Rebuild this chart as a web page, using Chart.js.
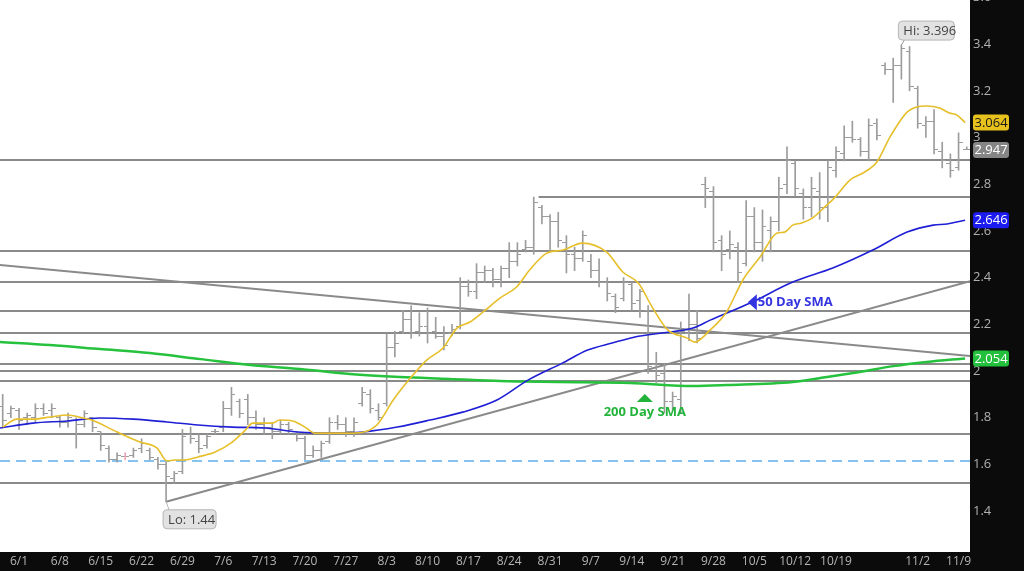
<!DOCTYPE html>
<html>
<head>
<meta charset="utf-8">
<script src="https://cdn.jsdelivr.net/npm/chart.js@4.4.1/dist/chart.umd.min.js"></script>
<style>
  html, body { margin: 0; padding: 0; background: #0b0b0b; }
  #wrap { width: 1024px; height: 571px; }
</style>
</head>
<body>
<div id="wrap"><canvas id="chart"></canvas></div>
<script>
// daily bars, index 0 = 5/28 (weekday slots)
const highs = [
  1.90,1.85,1.84,1.82,1.86,1.86,1.86,1.81,1.82,1.80,
  1.83,1.80,1.74,1.68,1.65,1.65,1.67,1.71,1.67,1.63,
  1.61,1.57,1.75,1.76,1.73,1.73,1.75,1.87,1.93,1.88,
  1.90,1.83,1.80,1.78,1.79,1.78,1.74,1.72,1.68,1.70,
  1.80,1.81,1.80,1.80,1.93,1.92,1.86,2.16,2.17,2.26,
  2.28,2.25,2.27,2.23,2.19,2.20,2.40,2.39,2.46,2.45,
  2.44,2.45,2.55,2.55,2.56,2.745,2.71,2.67,2.68,2.58,
  2.53,2.60,2.50,2.48,2.40,2.33,2.40,2.38,2.35,2.28,
  2.08,2.03,1.91,2.21,2.33,2.26,2.83,2.79,2.58,2.60,
  2.55,2.73,2.70,2.69,2.66,2.83,2.96,2.90,2.78,2.83,
  2.85,2.90,2.96,3.05,3.07,3.00,3.08,3.08,3.32,3.34,
  3.396,3.39,3.22,3.09,3.12,2.98,2.93,3.02,2.96
];
const lows = [
  1.76,1.80,1.75,1.77,1.78,1.81,1.80,1.76,1.76,1.67,
  1.76,1.74,1.66,1.61,1.61,1.62,1.63,1.65,1.62,1.58,
  1.44,1.52,1.56,1.69,1.65,1.67,1.73,1.74,1.81,1.80,
  1.77,1.75,1.73,1.71,1.73,1.73,1.70,1.62,1.63,1.63,
  1.69,1.75,1.72,1.72,1.85,1.82,1.79,1.85,2.06,2.16,
  2.14,2.15,2.12,2.14,2.09,2.15,2.18,2.32,2.31,2.38,
  2.36,2.36,2.40,2.45,2.51,2.50,2.63,2.51,2.53,2.42,
  2.43,2.47,2.40,2.36,2.30,2.25,2.30,2.26,2.23,1.99,
  1.95,1.82,1.83,1.82,2.13,2.12,2.70,2.51,2.43,2.48,
  2.38,2.45,2.51,2.47,2.51,2.60,2.76,2.75,2.65,2.66,
  2.65,2.64,2.83,2.90,2.98,2.92,2.90,2.99,3.27,3.15,
  3.25,3.20,3.04,3.00,2.93,2.87,2.83,2.86,2.95
];
const opens = [
  1.85,1.82,1.83,1.80,1.80,1.84,1.83,1.80,1.78,1.79,
  1.77,1.80,1.74,1.67,1.62,1.635,1.64,1.67,1.66,1.62,
  1.60,1.54,1.57,1.73,1.70,1.68,1.74,1.76,1.84,1.87,
  1.88,1.80,1.77,1.76,1.74,1.77,1.74,1.71,1.64,1.66,
  1.70,1.78,1.77,1.74,1.86,1.90,1.83,1.86,2.10,2.17,
  2.22,2.17,2.19,2.17,2.15,2.16,2.19,2.36,2.34,2.42,
  2.43,2.39,2.44,2.47,2.52,2.53,2.70,2.66,2.64,2.55,
  2.50,2.48,2.47,2.43,2.38,2.32,2.31,2.37,2.30,2.26,
  2.03,1.99,1.87,1.88,2.16,2.20,2.80,2.77,2.56,2.52,
  2.53,2.46,2.66,2.55,2.60,2.64,2.80,2.89,2.76,2.70,
  2.77,2.70,2.86,2.93,3.00,2.99,2.94,3.06,3.31,3.29,
  3.31,3.37,3.21,3.05,3.07,2.94,2.89,2.87,2.95
];
const closes = [
  1.79,1.84,1.79,1.81,1.84,1.82,1.84,1.78,1.80,1.77,
  1.82,1.76,1.68,1.62,1.64,1.635,1.66,1.69,1.63,1.60,
  1.55,1.56,1.72,1.71,1.67,1.72,1.74,1.84,1.90,1.82,
  1.80,1.77,1.76,1.74,1.77,1.75,1.71,1.64,1.66,1.69,
  1.78,1.77,1.74,1.78,1.91,1.84,1.80,2.10,2.12,2.22,
  2.16,2.19,2.16,2.15,2.11,2.18,2.36,2.34,2.42,2.43,
  2.39,2.44,2.47,2.50,2.53,2.72,2.66,2.64,2.56,2.50,
  2.48,2.58,2.43,2.38,2.33,2.27,2.38,2.29,2.34,2.02,
  1.98,1.87,1.89,2.17,2.20,2.14,2.78,2.55,2.50,2.54,
  2.42,2.66,2.55,2.62,2.64,2.78,2.90,2.78,2.70,2.78,
  2.70,2.87,2.94,3.00,2.99,2.94,3.05,3.01,3.29,3.31,
  3.38,3.22,3.06,3.07,2.95,2.90,2.86,2.98,2.947
];
const dojiIdx = 15;

// moving averages (bar index, price)
const sma10X = [0,1.75,3.7,5.8,7.9,9.8,10.9,14.0,16.8,18.9,20.1,21.1,22.3,23.9,26.0,28.1,29.7,30.6,33.0,33.9,35.5,37.0,38.2,40.7,42.9,45.8,47.8,49.9,51.9,53.9,55.6,57.2,58.8,60.9,62.9,64.5,66.6,68.6,70.9,73.9,75.9,77.8,79.5,81.4,83.8,84.7,86.6,88.6,90.6,92.7,94.8,95.7,96.7,97.8,99.1,100.6,101.9,103.7,105.3,107.0,108.6,110.7,111.9,113.1,114.7,115.9,116.8,117.8];
const sma10Y = [1.760,1.794,1.794,1.803,1.812,1.799,1.790,1.739,1.696,1.670,1.615,1.619,1.619,1.632,1.653,1.696,1.747,1.777,1.777,1.790,1.786,1.760,1.734,1.734,1.734,1.769,1.876,1.970,2.047,2.099,2.184,2.210,2.253,2.313,2.360,2.433,2.505,2.518,2.548,2.510,2.424,2.377,2.274,2.176,2.141,2.124,2.176,2.253,2.390,2.488,2.591,2.595,2.625,2.634,2.655,2.702,2.745,2.818,2.848,2.895,3.002,3.109,3.131,3.135,3.126,3.105,3.096,3.064];
const sma50X = [-0.33,3.7,7.9,11.9,16.0,20.1,23.9,28.1,32.1,36.1,40.3,44.1,48.3,52.3,56.3,60.5,64.3,68.5,71.6,74.6,77.4,80.7,84.5,86.6,91.5,96.7,101.6,106.5,110.7,113.9,115.6,117.8];
const sma50Y = [1.756,1.777,1.786,1.799,1.794,1.782,1.769,1.760,1.756,1.739,1.734,1.739,1.760,1.790,1.824,1.876,1.961,2.034,2.090,2.120,2.146,2.163,2.184,2.218,2.291,2.381,2.441,2.518,2.595,2.625,2.630,2.646];
const sma200X = [-0.33,5.8,11.9,18.0,24.2,30.3,36.4,42.5,48.6,54.7,60.9,68.2,76.8,84.5,88.6,96.7,100.9,104.9,109.0,113.1,117.8];
const sma200Y = [2.124,2.111,2.094,2.077,2.051,2.026,2.009,1.987,1.974,1.966,1.957,1.953,1.949,1.936,1.940,1.953,1.974,1.996,2.021,2.039,2.054];

// drawn levels and trend lines
const levels = [2.904, 2.514, 2.381, 2.257, 2.163, 2.030, 2.000, 1.957, 1.730, 1.520];
const resistStart = 65.6, resistLevel = 2.745;
const dashedLevel = 1.615;
const downTrend = [[-0.33, 2.454], [118.4, 2.064]];
const upTrend = [[20, 1.44], [118.4, 2.385]];

const tickLabels = ['6/1','6/8','6/15','6/22','6/29','7/6','7/13','7/20','7/27','8/3','8/10','8/17','8/24','8/31','9/7','9/14','9/21','9/28','10/5','10/12','10/19','11/2','11/9'];
const tickPos = [2,7,12,17,22,27,32,37,42,47,52,57,62,67,72,77,82,87,92,97,102,112,117];
const yTicks = [1.4,1.6,1.8,2,2.2,2.4,2.6,2.8,3,3.2,3.4,3.6];

const hiIdx = 110, hiVal = 3.396;
const loIdx = 20, loVal = 1.44;
const tagValues = [3.064, 2.947, 2.646, 2.054];
const tagStyles = [['#e8c21c', '#1a1a1a'], ['#858585', '#ffffff'], ['#1c1cf0', '#ffffff'], ['#22c03c', '#ffffff']];

const xMin = -0.33, xMax = 118.4;
const barGrey = '#9c9c9c';
const lineGrey = '#8a8a8a';

function tickImage(side) {
  const c = document.createElement('canvas');
  c.width = 8; c.height = 1;
  const g = c.getContext('2d');
  g.fillStyle = barGrey;
  g.fillRect(side === 'left' ? 0 : 4, 0, 4, 1);
  return c;
}

const wicks = highs.map((h, i) => ({x: i, y: [lows[i], h]}));
const wickColors = highs.map((h, i) => i === dojiIdx ? '#f2a2b6' : barGrey);

const datasets = [];
levels.forEach(v => datasets.push({
  type: 'line', data: [{x: xMin, y: v}, {x: xMax, y: v}],
  borderColor: lineGrey, borderWidth: 2, pointRadius: 0, order: 10
}));
datasets.push({
  type: 'line', data: [{x: resistStart, y: resistLevel}, {x: xMax, y: resistLevel}],
  borderColor: lineGrey, borderWidth: 2, pointRadius: 0, order: 10
});
datasets.push({
  type: 'line', data: [{x: xMin, y: dashedLevel}, {x: xMax, y: dashedLevel}],
  borderColor: '#86c3ee', borderWidth: 2, borderDash: [10, 6], pointRadius: 0, order: 10
});
[downTrend, upTrend].forEach(t => datasets.push({
  type: 'line', data: t.map(p => ({x: p[0], y: p[1]})),
  borderColor: lineGrey, borderWidth: 2, pointRadius: 0, order: 9
}));
datasets.push({
  type: 'bar', data: wicks, backgroundColor: wickColors,
  barThickness: 1, borderWidth: 0, borderSkipped: false, order: 5
});
datasets.push({
  type: 'line', data: opens.map((v, i) => ({x: i, y: v})), showLine: false,
  pointStyle: tickImage('left'), pointRadius: 1, order: 5
});
datasets.push({
  type: 'line', data: closes.map((v, i) => ({x: i, y: v})), showLine: false,
  pointStyle: tickImage('right'), pointRadius: 1, order: 5
});
datasets.push({
  type: 'line', data: sma200X.map((x, i) => ({x, y: sma200Y[i]})),
  borderColor: '#26c23e', borderWidth: 2.5, pointRadius: 0, cubicInterpolationMode: 'monotone', order: 3
});
datasets.push({
  type: 'line', data: sma50X.map((x, i) => ({x, y: sma50Y[i]})),
  borderColor: '#1f1fd6', borderWidth: 1.6, pointRadius: 0, cubicInterpolationMode: 'monotone', order: 2
});
datasets.push({
  type: 'line', data: sma10X.map((x, i) => ({x, y: sma10Y[i]})),
  borderColor: '#e6bf2a', borderWidth: 1.6, pointRadius: 0, cubicInterpolationMode: 'monotone', order: 1
});

function rbox(ctx, x, y, w, h, r, fill, stroke) {
  ctx.beginPath();
  ctx.roundRect(x, y, w, h, r);
  ctx.fillStyle = fill;
  ctx.fill();
  if (stroke) { ctx.strokeStyle = stroke; ctx.lineWidth = 1; ctx.stroke(); }
}

const notes = {
  id: 'notes',
  beforeDraw(chart) {
    const {ctx, chartArea: a} = chart;
    ctx.save();
    ctx.fillStyle = '#0b0b0b';
    ctx.fillRect(0, 0, chart.width, chart.height);
    ctx.fillStyle = '#ffffff';
    ctx.fillRect(a.left, a.top, a.right - a.left, a.bottom - a.top);
    ctx.restore();
  },
  afterDraw(chart) {
    const {ctx} = chart;
    const xs = chart.scales.x, ys = chart.scales.y;
    ctx.save();
    ctx.textBaseline = 'middle';
    ctx.font = '13px "Open Sans"';

    // Hi / Lo call-outs
    const hx = xs.getPixelForValue(hiIdx), hy = ys.getPixelForValue(hiVal);
    ctx.strokeStyle = '#9a9a9a'; ctx.lineWidth = 1;
    ctx.beginPath(); ctx.moveTo(hx, hy); ctx.lineTo(hx + 3, hy - 5); ctx.stroke();
    rbox(ctx, hx - 3, hy - 24, 56, 19, 4, '#e2e2e2', '#b5b5b5');
    ctx.fillStyle = '#444';
    ctx.fillText('Hi: ' + hiVal, hx + 2, hy - 14);

    const lx = xs.getPixelForValue(loIdx), ly = ys.getPixelForValue(loVal);
    ctx.beginPath(); ctx.moveTo(lx, ly); ctx.lineTo(lx + 3, ly + 8); ctx.stroke();
    rbox(ctx, lx - 3, ly + 8, 53, 19, 4, '#e2e2e2', '#b5b5b5');
    ctx.fillStyle = '#444';
    ctx.fillText('Lo: ' + loVal, lx + 2, ly + 18);

    // SMA names
    ctx.font = 'bold 13px "Open Sans"';
    const gx = xs.getPixelForValue(78.6), gy = ys.getPixelForValue(1.825);
    ctx.fillStyle = '#22b43a';
    ctx.beginPath();
    ctx.moveTo(gx, gy - 18); ctx.lineTo(gx + 8, gy - 10); ctx.lineTo(gx - 8, gy - 10); ctx.closePath(); ctx.fill();
    ctx.textAlign = 'center';
    ctx.fillText('200 Day SMA', gx, gy);

    const bx = xs.getPixelForValue(91.2), by = ys.getPixelForValue(2.295);
    ctx.fillStyle = '#3434e0';
    ctx.beginPath();
    ctx.moveTo(bx, by); ctx.lineTo(bx + 9, by - 8); ctx.lineTo(bx + 9, by + 8); ctx.closePath(); ctx.fill();
    ctx.textAlign = 'left';
    ctx.fillText('50 Day SMA', bx + 10, by);

    // price tags on the right axis
    ctx.font = '13px "Open Sans"';
    const tx = chart.chartArea.right + 3;
    tagValues.forEach((v, i) => {
      const y = ys.getPixelForValue(v);
      rbox(ctx, tx, y - 8, 36, 16, 3, tagStyles[i][0]);
      ctx.fillStyle = tagStyles[i][1];
      ctx.fillText(v.toFixed(3), tx + 1.5, y + 0.5);
    });
    ctx.restore();
  }
};

new Chart(document.getElementById('chart'), {
  type: 'line',
  data: {datasets},
  plugins: [notes],
  options: {
    responsive: true,
    maintainAspectRatio: false,
    devicePixelRatio: 1,
    animation: false,
    layout: {padding: 0, autoPadding: false},
    plugins: {legend: {display: false}, tooltip: {enabled: false}},
    scales: {
      x: {
        type: 'linear', min: xMin, max: xMax, offset: false,
        grid: {display: false, drawTicks: false}, border: {display: false},
        afterBuildTicks: s => { s.ticks = tickPos.map(v => ({value: v})); },
        afterFit: s => { s.height = 19; s.paddingLeft = 0; s.paddingRight = 0; },
        ticks: {
          autoSkip: false, maxRotation: 0, padding: 2, color: '#b5b5b5',
          font: {family: 'Open Sans', size: 12},
          callback: (v, i) => tickLabels[i]
        }
      },
      y: {
        type: 'linear', position: 'right', min: 1.225, max: 3.589,
        grid: {display: false, drawTicks: false}, border: {display: false},
        afterBuildTicks: s => { s.ticks = yTicks.map(v => ({value: v})); },
        afterFit: s => { s.width = 54; s.paddingTop = 0; s.paddingBottom = 0; },
        ticks: {
          padding: 3, color: '#b0b0b0',
          font: {family: 'Open Sans', size: 13},
          callback: v => String(v)
        }
      }
    }
  }
});
</script>
</body>
</html>
